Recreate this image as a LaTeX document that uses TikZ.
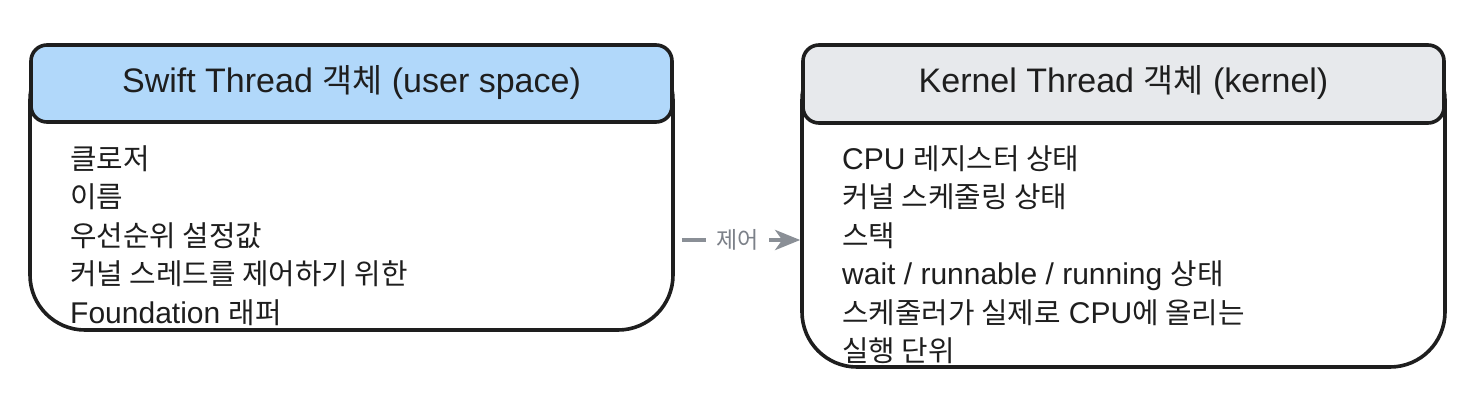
\documentclass[tikz,border=0pt]{standalone}
\usepackage{fontspec}
\setmainfont{Liberation Sans}
\newfontfamily\krfont[Scale=0.96]{Noto Sans CJK KR}
\newcommand\K[1]{{\krfont #1}}
\usetikzlibrary{arrows.meta}
\definecolor{ink}{HTML}{1E1E1E}
\definecolor{blueh}{HTML}{B1D8FA}
\definecolor{grayh}{HTML}{E7E9EC}
\definecolor{arrowgray}{HTML}{8A8F96}
\definecolor{labelgray}{HTML}{7C8189}
\tikzset{
  bodybox/.style={draw=ink, line width=3.6pt, rounded corners=55pt, fill=white, inner sep=0pt},
  headbox/.style={draw=ink, line width=3.6pt, rounded corners=16pt, inner sep=0pt,
    text height=24pt, text depth=7pt, text=ink, font=\fontsize{34}{40}\selectfont},
  btxt/.style={anchor=base west, inner sep=0pt, text=ink, font=\fontsize{30}{38}\selectfont},
  ctrl/.style={draw=arrowgray, line width=4.5pt, -{Stealth[length=25pt,width=20pt,inset=7pt]}, shorten <=7pt},
  ctrllabel/.style={fill=white, text=labelgray, inner xsep=10pt, inner ysep=4pt, font=\fontsize{24}{28}\selectfont}
}
\begin{document}
\begin{tikzpicture}[x=1pt,y=-1pt]
\useasboundingbox (0,0) rectangle (1468,416);
% left object
\node[bodybox, minimum width=643pt, minimum height=285pt] (L) at (351.5,187.5) {};
\node[headbox, fill=blueh, minimum width=641pt, minimum height=77pt] (LH) at (351.5,83.5) {Swift Thread \K{객체} (user space)};
\node[btxt] (l1) at (70,169) {\K{클로저}};
\node[btxt] (l2) at (70,207.5) {\K{이름}};
\node[btxt] (l3) at (70,246) {\K{우선순위 설정값}};
\node[btxt] (l4) at (70,284.5) {\K{커널 스레드를 제어하기 위한}};
\node[btxt] (l5) at (70,323) {Foundation \K{래퍼}};
% right object
\node[bodybox, minimum width=643pt, minimum height=322pt] (R) at (1123.5,206) {};
\node[headbox, fill=grayh, minimum width=641pt, minimum height=78pt] (RH) at (1123.5,84) {Kernel Thread \K{객체} (kernel)};
\node[btxt] (r1) at (842,169) {CPU \K{레지스터 상태}};
\node[btxt] (r2) at (842,207.5) {\K{커널 스케줄링 상태}};
\node[btxt] (r3) at (842,246) {\K{스택}};
\node[btxt] (r4) at (842,284.5) {wait / runnable / running \K{상태}};
\node[btxt] (r5) at (842,323) {\K{스케줄러가 실제로} CPU\K{에 올리는}};
\node[btxt] (r6) at (842,361.5) {\K{실행 단위}};
% connector
\coordinate (ay) at (0,240);
\draw[ctrl] (L.east |- ay) -- node[ctrllabel] {\K{제어}} (R.west |- ay);
\end{tikzpicture}
\end{document}
